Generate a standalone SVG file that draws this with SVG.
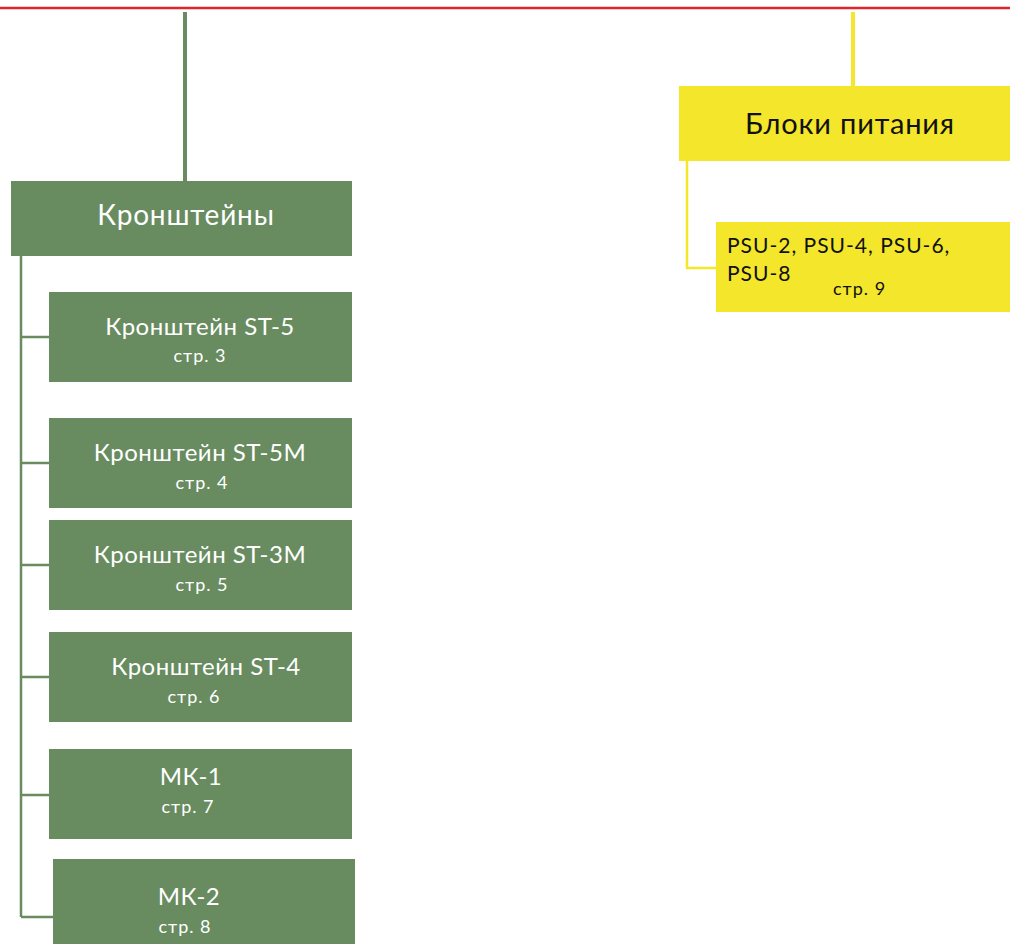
<svg xmlns="http://www.w3.org/2000/svg" width="1010" height="944" viewBox="0 0 1010 944">
<style>
.g{fill:#688c60}
.y{fill:#f3e62b}
.gl{stroke:#688c60;fill:none}
.yl{stroke:#f3e62b;fill:none}
text{font-family:Lato,"Open Sans","Noto Sans",sans-serif}
.w{fill:#ffffff;text-anchor:middle}
.k{fill:#111111}
.t1{font-size:24px;letter-spacing:0.5px}
.t2{font-size:18px;letter-spacing:1px}
</style>
<rect width="1010" height="944" fill="#ffffff"/>
<line x1="0" y1="8" x2="1010" y2="8" stroke="#e0262a" stroke-width="2.5"/>
<g id="connectors">
<line class="gl" x1="185" y1="12" x2="185" y2="181" stroke-width="4"/>
<path class="gl" d="M21 256 V917 M21 337 H49 M21 463 H49 M21 565 H49 M21 677 H49 M21 795 H49 M21 917 H53" stroke-width="2.5"/>
<line class="yl" x1="853" y1="12" x2="853" y2="86" stroke-width="4"/>
<path class="yl" d="M687 161 V268 H716" stroke-width="2.5"/>
</g>
<g id="kronshteiny"><rect class="g" x="11" y="181" width="341" height="75"/><text class="w" x="186" y="225" font-size="28" letter-spacing="0.8">Кронштейны</text></g>
<g id="st5"><rect class="g" x="49" y="292" width="303" height="90"/><text class="w t1" x="200" y="335">Кронштейн ST-5</text><text class="w t2" x="200" y="362">стр. 3</text></g>
<g id="st5m"><rect class="g" x="49" y="418" width="303" height="90"/><text class="w t1" x="200" y="461">Кронштейн ST-5M</text><text class="w t2" x="202" y="489">стр. 4</text></g>
<g id="st3m"><rect class="g" x="49" y="520" width="303" height="90"/><text class="w t1" x="200" y="563">Кронштейн ST-3M</text><text class="w t2" x="202" y="591">стр. 5</text></g>
<g id="st4"><rect class="g" x="49" y="632" width="303" height="90"/><text class="w t1" x="206" y="675">Кронштейн ST-4</text><text class="w t2" x="194" y="703">стр. 6</text></g>
<g id="mk1"><rect class="g" x="49" y="749" width="303" height="90"/><text class="w t1" x="191" y="785">МК-1</text><text class="w t2" x="188" y="813">стр. 7</text></g>
<g id="mk2"><rect class="g" x="53" y="859" width="302" height="90"/><text class="w t1" x="189" y="905">МК-2</text><text class="w t2" x="185" y="933">стр. 8</text></g>
<g id="bloki"><rect class="y" x="679" y="86" width="331" height="75"/><text class="k" x="850" y="134" font-size="29" letter-spacing="0.8" text-anchor="middle">Блоки питания</text></g>
<g id="psu"><rect class="y" x="716" y="222" width="294" height="90"/><text class="k" x="727" y="253" font-size="21" letter-spacing="1">PSU-2, PSU-4, PSU-6,</text><text class="k" x="727" y="281" font-size="21" letter-spacing="1">PSU-8</text><text class="k" x="833" y="295" font-size="18" letter-spacing="1">стр. 9</text></g>
</svg>
